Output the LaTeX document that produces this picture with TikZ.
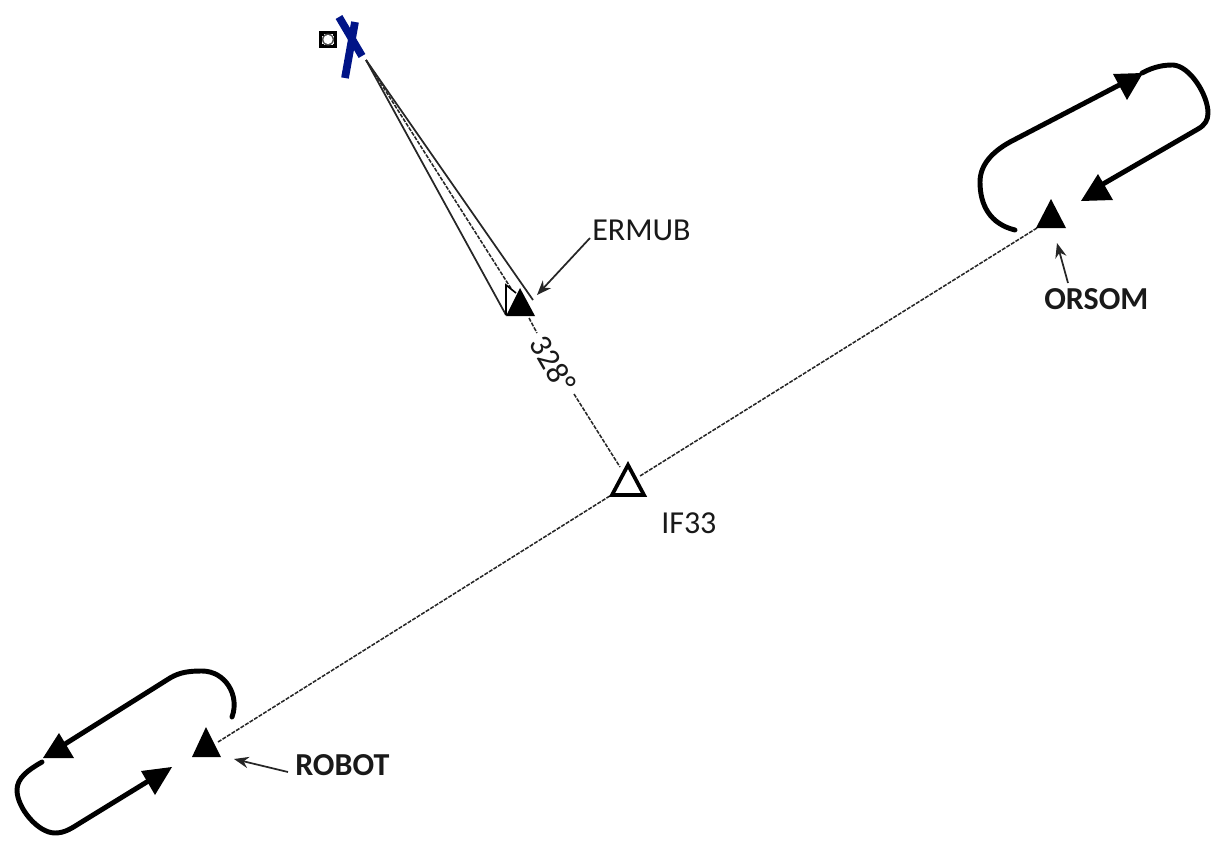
\documentclass[tikz,border=0pt]{standalone}
\usepackage{fontspec}
\setmainfont{Carlito}
\usetikzlibrary{arrows.meta}
\definecolor{xblue}{RGB}{0,20,135}
\definecolor{txt}{RGB}{25,25,25}
\tikzset{
  x=0.75pt,y=-0.75pt,
  solidtri/.style={fill=black,draw=none},
  hold/.style={line width=3.7pt,black,line cap=round},
  dashline/.style={line width=1.15pt,black!85,dash pattern=on 3pt off 1pt},
  thinline/.style={line width=1.3pt,black!85},
  lead/.style={line width=1.3pt,black!85,-{Stealth[length=11pt,width=8.5pt]}},
  lab/.style={font=\fontsize{24}{28}\selectfont,text=txt,inner sep=0pt,anchor=west},
  blab/.style={lab,font=\fontsize{24}{28}\selectfont\bfseries},
}
\begin{document}
\begin{tikzpicture}
\useasboundingbox (0,0) rectangle (1229,843);
% named points
\coordinate (fix) at (366,60);
\coordinate (orsomFoot) at (1037,228);
\coordinate (robotFoot) at (218,742);
\coordinate (ifNE) at (640,476);
\coordinate (ifSW) at (613,494);
\coordinate (ifN) at (620,467);
\coordinate (ermubS) at (529,318);
\coordinate (labUp) at (537,333);
\coordinate (labDown) at (574,394);
\coordinate (apL) at (506,315);
\coordinate (apM) at (512,290);
\coordinate (apR) at (533,300);
\coordinate (ermubTip) at (537,295);
\coordinate (ermubTail) at (590,238);
\coordinate (orsomTip) at (1057,243);
\coordinate (orsomTail) at (1068,283);
\coordinate (robotTip) at (234,759);
\coordinate (robotTail) at (288,772);
% approach lines
\draw[thinline] (fix) -- (apL);
\draw[thinline] (fix) -- (apR);
\draw[dashline] (fix) -- (apM);
\draw[line width=1.2pt] (apL) -- (506,285) -- (516,293);
% dashed tracks
\draw[dashline] (orsomFoot) -- (ifNE);
\draw[dashline] (robotFoot) -- (ifSW);
\draw[dashline] (ermubS) -- (labUp);
\draw[dashline] (labDown) -- (ifN);
% triangles
\fill[solidtri] (520,288) -- (535,316) -- (506,316) -- cycle;
\fill[solidtri] (1051,199) -- (1066,228) -- (1036,228) -- cycle;
\fill[solidtri] (206,727) -- (221,757) -- (192,757) -- cycle;
\draw[line width=2.8pt,miter limit=10] (628,465) -- (644,495) -- (612,495) -- cycle;
% missed point mark
\draw[xblue,line width=5.8pt] (339,17) -- (362,56);
\draw[xblue,line width=5.8pt] (355,22) -- (345,78);
% small icon
\fill[black] (319,31) rectangle (337,48);
\fill[white] (322,34) rectangle (334,45);
\fill[black!70] (328,39.5) circle (6);
\fill[white] (328,39.5) circle (4.6);
\fill[black] (322,34) rectangle (323.5,35.5);
\fill[black] (332.5,34) rectangle (334,35.5);
\fill[black] (322,43.5) rectangle (323.5,45);
\fill[black] (332.5,43.5) rectangle (334,45);
% holding, ORSOM
\draw[hold] (1015,230) .. controls (990,224) and (980,205) .. (980,182)
  .. controls (980,165) and (992,152) .. (1010,142) -- (1125,82);
\fill[solidtri] (1113,74) -- (1143,73) -- (1127,100) -- cycle;
\draw[hold] (1142,73) .. controls (1155,66) and (1165,65) .. (1173,65)
  .. controls (1190,66) and (1208,95) .. (1208,113)
  .. controls (1208,120) and (1205,125) .. (1198,129) -- (1103,184);
\fill[solidtri] (1098,174) -- (1113,200) -- (1081,201) -- cycle;
% holding, ROBOT
\draw[hold] (232,717) .. controls (240,695) and (225,671) .. (202,671)
  .. controls (190,671) and (180,672) .. (170,678) -- (65,744);
\fill[solidtri] (59,733) -- (74,758) -- (43,758) -- cycle;
\draw[hold] (42,762) .. controls (28,770) and (17,778) .. (17,790)
  .. controls (17,808) and (38,833) .. (55,833)
  .. controls (65,833) and (72,828) .. (80,823) -- (150,780);
\fill[solidtri] (141,771) -- (172,767) -- (155,795) -- cycle;
% leaders
\draw[lead] (ermubTail) -- (ermubTip);
\draw[lead] (orsomTail) -- (orsomTip);
\draw[lead] (robotTail) -- (robotTip);
% labels
\node[lab] (lE) at (592,230) {ERMUB};
\node[blab] (lO) at (1044,299) {ORSOM};
\node[blab] (lR) at (295,765) {ROBOT};
\node[lab] (lI) at (661,523) {IF33};
\node[lab,anchor=center,rotate=-60] (lA) at (553,364) {328°};
\end{tikzpicture}
\end{document}
